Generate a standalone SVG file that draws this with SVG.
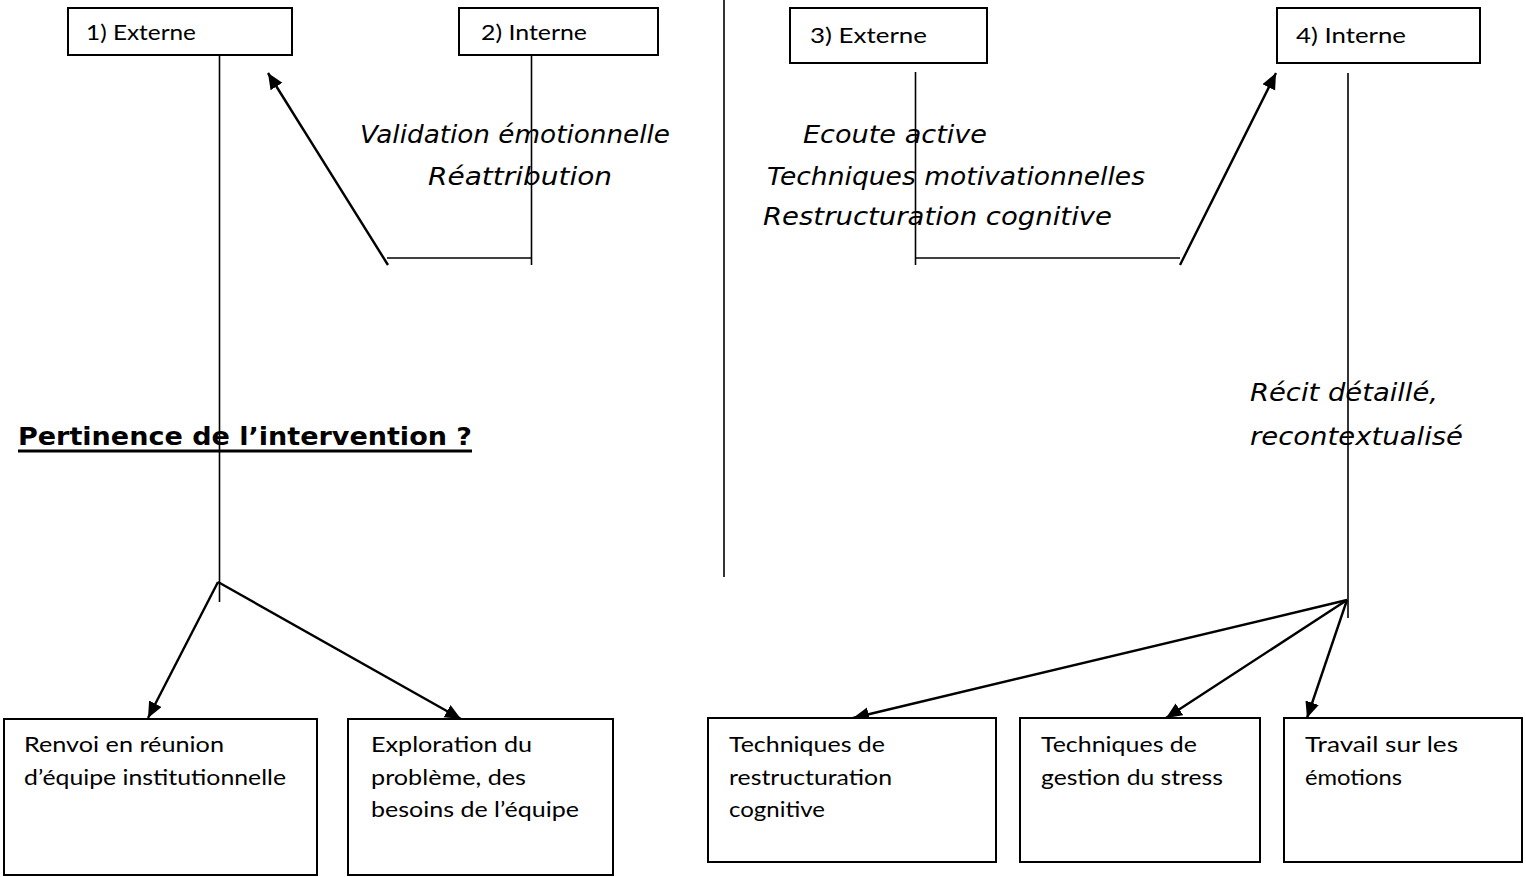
<svg xmlns="http://www.w3.org/2000/svg" width="1526" height="877" viewBox="0 0 1526 877">
<style>
.box{fill:#fff;stroke:#000;stroke-width:2}
.lbl{font-family:Lato,"Open Sans","Noto Sans",sans-serif;font-size:20.5px;fill:#000}
.hand{font-family:"DejaVu Sans","Noto Sans",sans-serif;font-style:italic;font-size:24px;fill:#000}
.ln{stroke:#000;stroke-width:1.6;fill:none}
.ar{stroke:#000;stroke-width:2.4;fill:none;marker-end:url(#ah)}
</style>
<defs>
<marker id="ah" markerUnits="userSpaceOnUse" markerWidth="18" markerHeight="15" refX="16" refY="7" orient="auto">
<path d="M0,0 L16,7 L0,14 z" fill="#000"/>
</marker>
</defs>
<rect width="1526" height="877" fill="#fff"/>

<g id="connectors">
<line class="ln" x1="219.5" y1="49" x2="219.5" y2="602"/>
<line class="ln" x1="531.5" y1="49" x2="531.5" y2="265"/>
<line class="ln" x1="387" y1="258" x2="532" y2="258"/>
<line class="ar" x1="388" y1="265" x2="268" y2="73"/>
<line class="ln" x1="724" y1="0" x2="724" y2="577"/>
<line class="ln" x1="915.5" y1="72" x2="915.5" y2="265"/>
<line class="ln" x1="915" y1="258" x2="1180" y2="258"/>
<line class="ar" x1="1180" y1="265" x2="1276" y2="73"/>
<line class="ln" x1="1348" y1="73" x2="1348" y2="618"/>
<line class="ar" x1="218" y1="582" x2="148" y2="718"/>
<line class="ar" x1="218" y1="582" x2="461" y2="719"/>
<line class="ar" x1="1347" y1="600" x2="853" y2="718"/>
<line class="ar" x1="1347" y1="600" x2="1166" y2="718"/>
<line class="ar" x1="1347" y1="600" x2="1307" y2="718"/>
</g>

<g id="n1"><rect class="box" x="68" y="8" width="224" height="47"/><text class="lbl" x="86" y="40" textLength="110" lengthAdjust="spacingAndGlyphs">1) Externe</text></g>
<g id="n2"><rect class="box" x="459" y="8" width="199" height="47"/><text class="lbl" x="481" y="40" textLength="106" lengthAdjust="spacingAndGlyphs">2) Interne</text></g>
<g id="n3"><rect class="box" x="790" y="8" width="197" height="55"/><text class="lbl" x="810" y="43" textLength="117" lengthAdjust="spacingAndGlyphs">3) Externe</text></g>
<g id="n4"><rect class="box" x="1277" y="8" width="203" height="55"/><text class="lbl" x="1296" y="43" textLength="110" lengthAdjust="spacingAndGlyphs">4) Interne</text></g>

<g id="t-left">
<text class="hand" x="360" y="143" textLength="310" lengthAdjust="spacingAndGlyphs">Validation émotionnelle</text>
<text class="hand" x="428" y="185" textLength="184" lengthAdjust="spacingAndGlyphs">Réattribution</text>
</g>
<g id="t-right">
<text class="hand" x="803" y="143" textLength="184" lengthAdjust="spacingAndGlyphs">Ecoute active</text>
<text class="hand" x="767" y="185" textLength="378" lengthAdjust="spacingAndGlyphs">Techniques motivationnelles</text>
<text class="hand" x="763" y="225" textLength="349" lengthAdjust="spacingAndGlyphs">Restructuration cognitive</text>
</g>
<g id="t-recit">
<text class="hand" x="1250" y="401" textLength="188" lengthAdjust="spacingAndGlyphs">Récit détaillé,</text>
<text class="hand" x="1250" y="445" textLength="213" lengthAdjust="spacingAndGlyphs">recontextualisé</text>
</g>
<g id="t-pertinence">
<text x="18" y="445" font-family="'DejaVu Sans','Noto Sans',sans-serif" font-weight="bold" font-size="24" textLength="454" lengthAdjust="spacingAndGlyphs">Pertinence de l’intervention ?</text>
<line x1="18" y1="451" x2="472" y2="451" stroke="#000" stroke-width="3"/>
</g>

<g id="b1"><rect class="box" x="4" y="719" width="313" height="156"/>
<text class="lbl" x="24" y="752" textLength="200" lengthAdjust="spacingAndGlyphs">Renvoi en réunion</text>
<text class="lbl" x="24" y="785" textLength="262" lengthAdjust="spacingAndGlyphs">d’équipe institutionnelle</text></g>
<g id="b2"><rect class="box" x="348" y="719" width="265" height="156"/>
<text class="lbl" x="371" y="752" textLength="161" lengthAdjust="spacingAndGlyphs">Exploration du</text>
<text class="lbl" x="371" y="785" textLength="155" lengthAdjust="spacingAndGlyphs">problème, des</text>
<text class="lbl" x="371" y="817" textLength="208" lengthAdjust="spacingAndGlyphs">besoins de l’équipe</text></g>
<g id="b3"><rect class="box" x="708" y="718" width="288" height="144"/>
<text class="lbl" x="729" y="752" textLength="156" lengthAdjust="spacingAndGlyphs">Techniques de</text>
<text class="lbl" x="729" y="785" textLength="163" lengthAdjust="spacingAndGlyphs">restructuration</text>
<text class="lbl" x="729" y="817" textLength="96" lengthAdjust="spacingAndGlyphs">cognitive</text></g>
<g id="b4"><rect class="box" x="1020" y="718" width="240" height="144"/>
<text class="lbl" x="1041" y="752" textLength="156" lengthAdjust="spacingAndGlyphs">Techniques de</text>
<text class="lbl" x="1041" y="785" textLength="182" lengthAdjust="spacingAndGlyphs">gestion du stress</text></g>
<g id="b5"><rect class="box" x="1284" y="718" width="238" height="144"/>
<text class="lbl" x="1305" y="752" textLength="153" lengthAdjust="spacingAndGlyphs">Travail sur les</text>
<text class="lbl" x="1305" y="785" textLength="97" lengthAdjust="spacingAndGlyphs">émotions</text></g>
</svg>
